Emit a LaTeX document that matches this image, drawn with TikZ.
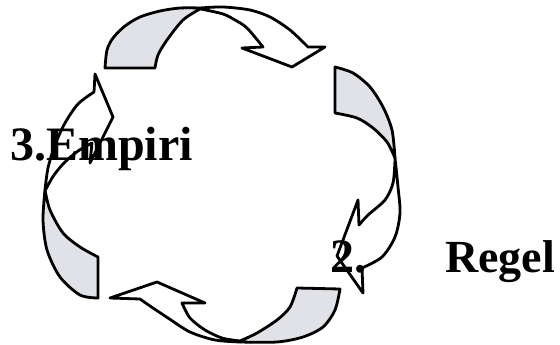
\documentclass[tikz,border=0pt]{standalone}
\usepackage{fontspec}
\setmainfont{Liberation Serif}

\definecolor{backgray}{RGB}{224,226,232}

\newcommand*{\picw}{560}
\newcommand*{\pich}{345}

\begin{document}
\begin{tikzpicture}
[
	x=1pt, y=-1pt,
	backside/.style={draw=black,fill=backgray,line width=2.8pt,line join=round},
	frontside/.style={draw=black,fill=white,line width=2.8pt,line join=round},
	cyclabel/.style={font=\bfseries\fontsize{48}{52}\selectfont,anchor=base west,inner sep=0pt}
]

	\useasboundingbox (0,0) rectangle (\picw,\pich);

	% top arrow
	\filldraw[backside] plot[smooth] coordinates {(105,68) (107,50) (113,38) (125,26) (140,17) (160,11) (180,8) (200,8)}
		-- plot[smooth] coordinates {(200,9) (183,20) (167,40) (158,55) (155,68)} -- cycle;
	\filldraw[frontside] plot[smooth] coordinates {(200,8) (223,7) (250,10) (270,17) (290,30) (308,47)}
		-- (325,47) -- (292,67) -- (242,48) -- (263,47)
		-- plot[smooth] coordinates {(263,47) (247,28) (235,20) (223,14) (201,9)} -- cycle;

	% right arrow
	\filldraw[backside] plot[smooth] coordinates {(335,67) (353,73) (370,87) (383,107) (392,130) (395,158)}
		-- plot[smooth] coordinates {(395,158) (387,142) (373,128) (357,118) (335,113)} -- cycle;
	\filldraw[frontside] plot[smooth] coordinates {(395,158) (398,187) (400,213) (395,237) (382,257) (362,268)}
		-- (363,293) -- (337,256) -- (358,200) -- (359,225)
		-- plot[smooth] coordinates {(359,225) (368,215) (385,200) (393,183) (395,160)} -- cycle;

	% bottom arrow
	\filldraw[backside] (297,288) -- plot[smooth] coordinates {(340,289) (335,310) (323,327) (303,337) (277,342) (240,342)}
		-- plot[smooth] coordinates {(240,341) (257,333) (277,320) (290,307) (297,288)} -- cycle;
	\filldraw[frontside] plot[smooth] coordinates {(240,342) (215,340) (190,332) (168,318) (150,306) (140,299)}
		-- (110,298) -- (157,282) -- (205,303) -- (182,303)
		-- plot[smooth] coordinates {(182,303) (190,318) (205,330) (222,338) (240,341)} -- cycle;

	% left arrow
	\filldraw[backside] (98,257) -- plot[smooth] coordinates {(98,298) (80,295) (60,277) (47,250) (43,220) (45,190)}
		-- plot[smooth] coordinates {(45,190) (50,210) (63,233) (80,247) (98,257)} -- cycle;
	\filldraw[frontside] plot[smooth] coordinates {(45,190) (48,168) (55,145) (65,123) (78,104) (94,92)}
		-- (95,74) -- (113,117) -- (90,163) -- (92,143)
		-- plot[smooth] coordinates {(92,143) (78,151) (65,162) (54,175) (46,189)} -- cycle;

	% labels
	\node[cyclabel] (empiri) at (10,160) {3.Empiri};
	\node[cyclabel] (two) at (330,272) {2.};
	\node[cyclabel,font=\bfseries\fontsize{46}{50}\selectfont] (regel) at (445,272) {Regel};

\end{tikzpicture}
\end{document}
